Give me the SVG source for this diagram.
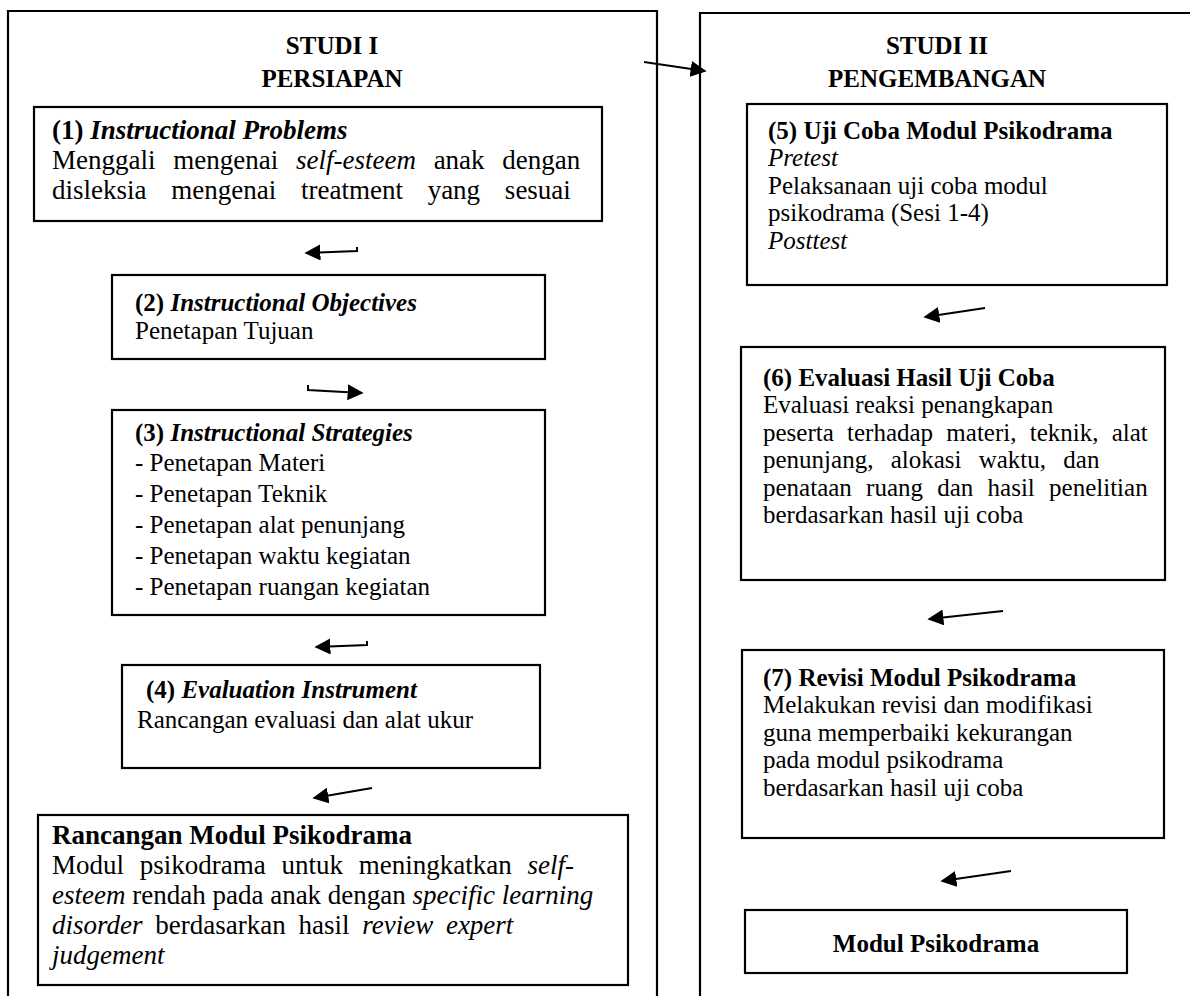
<svg xmlns="http://www.w3.org/2000/svg" width="1190" height="996" viewBox="0 0 1190 996">
<style>
.box{fill:none;stroke:#000;stroke-width:2.2}
.t{font-family:"Liberation Serif","Times New Roman",serif;font-size:25px;fill:#000}
.tl{font-size:27px}
.h{font-family:"Liberation Serif","Times New Roman",serif;font-size:25px;font-weight:bold;fill:#000;text-anchor:middle}
.b{font-weight:bold}
.i{font-style:italic}
.ln{stroke:#000;stroke-width:2;fill:none}
</style>
<defs>
<marker id="ah2" viewBox="0 0 10 10" refX="9" refY="5" markerWidth="16" markerHeight="16" markerUnits="userSpaceOnUse" orient="auto">
<path d="M0,0 L10,5 L0,10 z" fill="#000"/>
</marker>
</defs>
<rect width="1190" height="996" fill="#fff"/>

<g id="studi1">
<path class="box" d="M8,1000 V11 H657 V1000"/>
<text class="h" x="332" y="54">STUDI I</text>
<text class="h" x="332" y="87">PERSIAPAN</text>
</g>
<g id="studi2">
<path class="box" d="M700,1000 V13 H1195"/>
<text class="h" x="937" y="54">STUDI II</text>
<text class="h" x="937" y="87">PENGEMBANGAN</text>
</g>

<g id="n1">
<rect class="box" x="34" y="107" width="568" height="114"/>
<text class="t tl" x="52" y="139"><tspan class="b">(1) </tspan><tspan class="b i">Instructional Problems</tspan></text>
<text class="t tl" x="52" y="169" word-spacing="11">Menggali mengenai <tspan class="i">self-esteem</tspan> anak dengan</text>
<text class="t tl" x="52" y="199" word-spacing="18">disleksia mengenai treatment yang sesuai</text>
</g>
<g id="n2">
<rect class="box" x="112" y="275" width="433" height="84"/>
<text class="t" x="135" y="311"><tspan class="b">(2) </tspan><tspan class="b i">Instructional Objectives</tspan></text>
<text class="t" x="135" y="339">Penetapan Tujuan</text>
</g>
<g id="n3">
<rect class="box" x="112" y="410" width="433" height="205"/>
<text class="t" x="135" y="441"><tspan class="b">(3) </tspan><tspan class="b i">Instructional Strategies</tspan></text>
<text class="t" x="135" y="471">- Penetapan Materi</text>
<text class="t" x="135" y="502">- Penetapan Teknik</text>
<text class="t" x="135" y="533">- Penetapan alat penunjang</text>
<text class="t" x="135" y="564">- Penetapan waktu kegiatan</text>
<text class="t" x="135" y="595">- Penetapan ruangan kegiatan</text>
</g>
<g id="n4">
<rect class="box" x="122" y="665" width="418" height="103"/>
<text class="t" x="146" y="698"><tspan class="b">(4) </tspan><tspan class="b i">Evaluation Instrument</tspan></text>
<text class="t" x="137" y="728">Rancangan evaluasi dan alat ukur</text>
</g>
<g id="n_rancangan">
<rect class="box" x="38" y="815" width="590" height="170"/>
<text class="t tl b" x="52" y="844">Rancangan Modul Psikodrama</text>
<text class="t tl" x="52" y="874" word-spacing="9">Modul psikodrama untuk meningkatkan <tspan class="i">self-</tspan></text>
<text class="t tl" x="52" y="904"><tspan class="i">esteem</tspan> rendah pada anak dengan <tspan class="i">specific learning</tspan></text>
<text class="t tl" x="52" y="934" word-spacing="6"><tspan class="i">disorder</tspan> berdasarkan hasil <tspan class="i">review expert</tspan></text>
<text class="t tl i" x="52" y="964">judgement</text>
</g>

<g id="n5">
<rect class="box" x="747" y="104" width="420" height="181"/>
<text class="t b" x="768" y="139">(5) Uji Coba Modul Psikodrama</text>
<text class="t i" x="768" y="166">Pretest</text>
<text class="t" x="768" y="194">Pelaksanaan uji coba modul</text>
<text class="t" x="768" y="221">psikodrama (Sesi 1-4)</text>
<text class="t i" x="768" y="249">Posttest</text>
</g>
<g id="n6">
<rect class="box" x="741" y="347" width="424" height="233"/>
<text class="t b" x="763" y="386">(6) Evaluasi Hasil Uji Coba</text>
<text class="t" x="763" y="413">Evaluasi reaksi penangkapan</text>
<text class="t" x="763" y="441" word-spacing="7">peserta terhadap materi, teknik, alat</text>
<text class="t" x="763" y="468" word-spacing="11">penunjang, alokasi waktu, dan</text>
<text class="t" x="763" y="496" word-spacing="8">penataan ruang dan hasil penelitian</text>
<text class="t" x="763" y="523">berdasarkan hasil uji coba</text>
</g>
<g id="n7">
<rect class="box" x="742" y="650" width="422" height="188"/>
<text class="t b" x="763" y="686">(7) Revisi Modul Psikodrama</text>
<text class="t" x="763" y="713">Melakukan revisi dan modifikasi</text>
<text class="t" x="763" y="741">guna memperbaiki kekurangan</text>
<text class="t" x="763" y="768">pada modul psikodrama</text>
<text class="t" x="763" y="796">berdasarkan hasil uji coba</text>
</g>
<g id="n_final">
<rect class="box" x="745" y="910" width="382" height="63"/>
<text class="t b" x="936" y="952" text-anchor="middle">Modul Psikodrama</text>
</g>

<g id="connectors">
<path class="ln" d="M357,247 V251 L306,253" marker-end="url(#ah2)"/>
<path class="ln" d="M308,385 V390 L362,393" marker-end="url(#ah2)"/>
<path class="ln" d="M367,641 V645 L316,647" marker-end="url(#ah2)"/>
<path class="ln" d="M372,788 L314,798" marker-end="url(#ah2)"/>
<path class="ln" d="M644,62 L705,71" marker-end="url(#ah2)"/>
<path class="ln" d="M985,308 L925,317" marker-end="url(#ah2)"/>
<path class="ln" d="M1003,611 L929,619" marker-end="url(#ah2)"/>
<path class="ln" d="M1011,871 L942,881" marker-end="url(#ah2)"/>
</g>
</svg>
